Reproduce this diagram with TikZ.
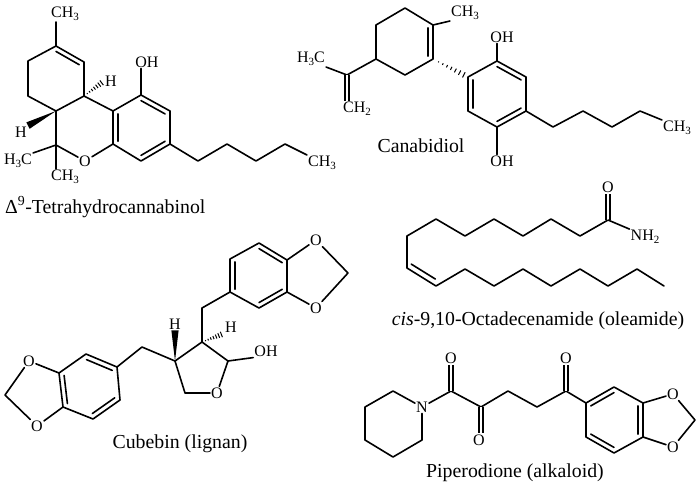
\documentclass[tikz,border=0pt]{standalone}
\usepackage{fontspec}
\setmainfont{Liberation Serif}
\usetikzlibrary{calc}
\newcommand{\subnum}[1]{\raisebox{-.4ex}{\fontsize{11}{11}\selectfont #1}}
\newcommand{\ringbond}[3]{\draw[bond] ($(#1)!.17!(#3)$) -- ($(#2)!.17!(#3)$);}
\newcommand{\wedgebond}[2]{\fill ($(#1)$) -- ($(#2)!3.6pt!90:(#1)$) -- ($(#2)!3.6pt!-90:(#1)$) -- cycle;}
\newcommand{\hashbond}[2]{\foreach \t/\w in {.16/.5,.28/.9,.4/1.3,.52/1.7,.64/2.1,.76/2.5,.88/2.9,1/3.3}
  \draw[line width=1pt] ($(#1)!\t!(#2)!\w pt!90:(#2)$) -- ($(#1)!\t!(#2)!\w pt!-90:(#2)$);}
\tikzset{
  bond/.style={line width=1.6pt,line cap=round,line join=round},
  dbond/.style={line width=1.4pt,double,double distance=2.8pt},
  atom/.style={inner sep=1pt,font=\fontsize{16}{16}\selectfont},
  caption/.style={inner sep=0pt,font=\fontsize{19.8}{20}\selectfont}
}
\begin{document}
\begin{tikzpicture}[x=1pt,y=-1pt]
  \useasboundingbox (0,0) rectangle (698,488);
  % tetrahydrocannabinol
  \coordinate (a1) at (56,46); \coordinate (a2) at (84,62); \coordinate (a3) at (84,96);
  \coordinate (a4) at (56,111); \coordinate (a5) at (28,96); \coordinate (a6) at (28,61);
  \coordinate (acen) at (56,78);
  \coordinate (b1) at (113,111); \coordinate (b2) at (113,144); \coordinate (b3) at (141,95);
  \coordinate (b4) at (170,111); \coordinate (b5) at (170,144); \coordinate (b6) at (141,161);
  \coordinate (bcen) at (141,128); \coordinate (c1) at (56,145);
  \coordinate (t1) at (198,161); \coordinate (t2) at (227,144); \coordinate (t3) at (256,161);
  \coordinate (t4) at (285,144);
  \node[atom] (me1) at (65,14) {CH\subnum{3}};
  \node[atom] (oh1) at (147,62) {OH};
  \node[atom] (h1) at (111,81) {H};
  \node[atom] (h2) at (21,132) {H};
  \node[atom] (me2) at (18,161) {H\subnum{3}C};
  \node[atom] (me3) at (65,177) {CH\subnum{3}};
  \node[atom] (o1) at (85,161) {O};
  \node[atom] (me4) at (322,163) {CH\subnum{3}};
  \draw[bond] (a1) -- (a2) -- (a3) -- (a4) -- (a5) -- (a6) -- (a1);
  \draw[bond] (a1) -- (a1 |- me1.south);
  \ringbond{a1}{a2}{acen}
  \draw[bond] (a3) -- (b1) -- (b3) -- (b4) -- (b5) -- (b6) -- (b2) -- (b1);
  \ringbond{b1}{b2}{bcen} \ringbond{b3}{b4}{bcen} \ringbond{b5}{b6}{bcen}
  \draw[bond] (b3) -- (b3 |- oh1.south);
  \draw[bond] (b2) -- (o1) -- (c1) -- (a4);
  \draw[bond] (c1) -- (me2.north east);
  \draw[bond] (c1) -- (c1 |- me3.north);
  \draw[bond] (b5) -- (t1) -- (t2) -- (t3) -- (t4) -- (me4.north west);
  \hashbond{a3}{h1.west}
  \wedgebond{a4}{h2.north east}
  \node[caption,anchor=west] (cap1) at (5,207) {Δ\textsuperscript{9}-Tetrahydrocannabinol};
  % canabidiol
  \coordinate (d1) at (405,8); \coordinate (d2) at (433,25); \coordinate (d3) at (433,59);
  \coordinate (d4) at (405,75); \coordinate (d5) at (376,59); \coordinate (d6) at (376,25);
  \coordinate (dcen) at (405,42); \coordinate (p1) at (347,75);
  \coordinate (e1) at (468,77); \coordinate (e2) at (497,61); \coordinate (e3) at (526,77);
  \coordinate (e4) at (526,111); \coordinate (e5) at (497,127); \coordinate (e6) at (468,111);
  \coordinate (ecen) at (497,94);
  \coordinate (u1) at (553,127); \coordinate (u2) at (583,111); \coordinate (u3) at (612,127);
  \coordinate (u4) at (640,111);
  \node[atom] (me5) at (465,13) {CH\subnum{3}};
  \node[atom] (me6) at (311,59) {H\subnum{3}C};
  \node[atom] (ch1) at (357,109) {CH\subnum{2}};
  \node[atom] (oh2) at (502,37) {OH};
  \node[atom] (oh3) at (502,161) {OH};
  \node[atom] (me7) at (677,128) {CH\subnum{3}};
  \draw[bond] (d1) -- (d2) -- (d3) -- (d4) -- (d5) -- (d6) -- (d1);
  \ringbond{d2}{d3}{dcen}
  \draw[bond] (d2) -- (me5.south west);
  \draw[bond] (d5) -- (p1) -- (me6.south east);
  \draw[dbond] (p1) -- (p1 |- ch1.north);
  \hashbond{d3}{e1}
  \draw[bond] (e1) -- (e2) -- (e3) -- (e4) -- (e5) -- (e6) -- (e1);
  \ringbond{e2}{e3}{ecen} \ringbond{e4}{e5}{ecen} \ringbond{e6}{e1}{ecen}
  \draw[bond] (e2) -- (e2 |- oh2.south);
  \draw[bond] (e5) -- (e5 |- oh3.north);
  \draw[bond] (e4) -- (u1) -- (u2) -- (u3) -- (u4) -- (me7.north west);
  \node[caption] (cap2) at (421,146) {Canabidiol};
  % cubebin
  \coordinate (f1) at (230,259); \coordinate (f2) at (259,243); \coordinate (f3) at (287,260);
  \coordinate (f4) at (287,292); \coordinate (f5) at (259,308); \coordinate (f6) at (230,292);
  \coordinate (fcen) at (259,276); \coordinate (f7) at (348,273);
  \coordinate (g1) at (202,308); \coordinate (g2) at (202,342); \coordinate (g3) at (228,361);
  \coordinate (g4) at (185,393); \coordinate (g5) at (175,361); \coordinate (g6) at (142,347);
  \coordinate (k1) at (117,367); \coordinate (k2) at (86,354); \coordinate (k3) at (59,373);
  \coordinate (k4) at (63,407); \coordinate (k5) at (93,419); \coordinate (k6) at (120,400);
  \coordinate (kcen) at (89,387); \coordinate (k7) at (5,395);
  \node[atom] (o2) at (316,240) {O};
  \node[atom] (o3) at (316,308) {O};
  \node[atom] (o4) at (217,393) {O};
  \node[atom] (oh4) at (266,351) {OH};
  \node[atom] (h3) at (231,327) {H};
  \node[atom] (h4) at (175,324) {H};
  \node[atom] (o5) at (29,361) {O};
  \node[atom] (o6) at (37,426) {O};
  \draw[bond] (f1) -- (f2) -- (f3) -- (f4) -- (f5) -- (f6) -- (f1);
  \ringbond{f1}{f6}{fcen} \ringbond{f2}{f3}{fcen} \ringbond{f4}{f5}{fcen}
  \draw[bond] (f3) -- (o2) -- (f7) -- (o3) -- (f4);
  \draw[bond] (f6) -- (g1) -- (g2) -- (g3) -- (o4) -- (g4) -- (g5) -- (g2);
  \draw[bond] (g3) -- (oh4.south west);
  \draw[bond] (g5) -- (g6) -- (k1);
  \hashbond{g2}{h3.south west}
  \wedgebond{g5}{h4.south}
  \draw[bond] (k1) -- (k2) -- (k3) -- (k4) -- (k5) -- (k6) -- (k1);
  \ringbond{k1}{k2}{kcen} \ringbond{k3}{k4}{kcen} \ringbond{k5}{k6}{kcen}
  \draw[bond] (k3) -- (o5) -- (k7) -- (o6) -- (k4);
  \node[caption] (cap3) at (180,444) {Cubebin (lignan)};
  % oleamide
  \coordinate (m1) at (407,236); \coordinate (m2) at (436,219); \coordinate (m3) at (465,236);
  \coordinate (m4) at (494,219); \coordinate (m5) at (523,236); \coordinate (m6) at (551,219);
  \coordinate (m7) at (580,236); \coordinate (m8) at (608,220);
  \coordinate (n1) at (407,268); \coordinate (n2) at (436,286); \coordinate (n3) at (465,269);
  \coordinate (n4) at (494,286); \coordinate (n5) at (523,269); \coordinate (n6) at (551,286);
  \coordinate (n7) at (580,269); \coordinate (n8) at (608,286); \coordinate (n9) at (637,269);
  \coordinate (n10) at (664,286); \coordinate (ncen) at (432,245);
  \node[atom] (o7) at (608,187) {O};
  \node[atom] (nh1) at (645,237) {NH\subnum{2}};
  \draw[bond] (m8) -- (m7) -- (m6) -- (m5) -- (m4) -- (m3) -- (m2) -- (m1) -- (n1) -- (n2) -- (n3) -- (n4) -- (n5) -- (n6) -- (n7) -- (n8) -- (n9) -- (n10);
  \ringbond{n1}{n2}{ncen}
  \draw[dbond] (m8) -- (o7);
  \draw[bond] (m8) -- (nh1.north west);
  \node[caption] (cap4) at (538,321) {\textit{cis}-9,10-Octadecenamide (oleamide)};
  % piperodione
  \coordinate (r1) at (393,391); \coordinate (r2) at (365,407); \coordinate (r3) at (365,440);
  \coordinate (r4) at (393,457); \coordinate (r5) at (422,440);
  \coordinate (s1) at (451,391); \coordinate (s2) at (481,407); \coordinate (s3) at (508,391);
  \coordinate (s4) at (537,407); \coordinate (s5) at (566,391);
  \coordinate (v1) at (586,403); \coordinate (v2) at (614,387); \coordinate (v3) at (643,403);
  \coordinate (v4) at (643,437); \coordinate (v5) at (614,453); \coordinate (v6) at (586,437);
  \coordinate (vcen) at (614,420); \coordinate (v7) at (695,420);
  \node[atom] (n11) at (422,407) {N};
  \node[atom] (o8) at (451,358) {O};
  \node[atom] (o9) at (479,440) {O};
  \node[atom] (o10) at (566,358) {O};
  \node[atom] (o11) at (673,394) {O};
  \node[atom] (o12) at (673,447) {O};
  \draw[bond] (n11) -- (r1) -- (r2) -- (r3) -- (r4) -- (r5) -- (n11);
  \draw[bond] (n11) -- (s1) -- (s2) -- (s3) -- (s4) -- (s5) -- (v1);
  \draw[dbond] (s1) -- (o8);
  \draw[dbond] (s2) -- (s2 |- o9.north);
  \draw[dbond] (s5) -- (o10);
  \draw[bond] (v1) -- (v2) -- (v3) -- (v4) -- (v5) -- (v6) -- (v1);
  \ringbond{v1}{v2}{vcen} \ringbond{v3}{v4}{vcen} \ringbond{v5}{v6}{vcen}
  \draw[bond] (v3) -- (o11) -- (v7) -- (o12) -- (v4);
  \node[caption] (cap5) at (515,473) {Piperodione (alkaloid)};
\end{tikzpicture}
\end{document}
